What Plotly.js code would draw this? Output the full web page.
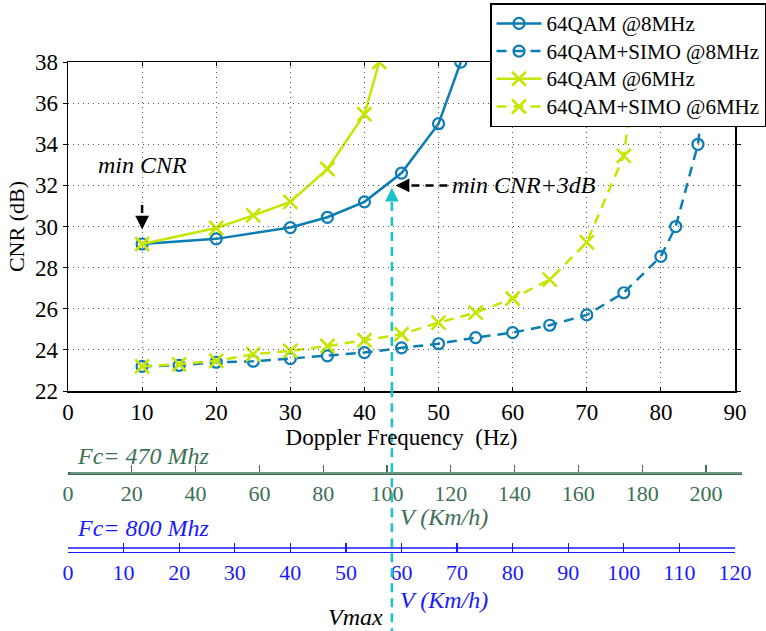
<!DOCTYPE html>
<html>
<head>
<meta charset="utf-8">
<script src="https://cdn.plot.ly/plotly-3.0.1.min.js"></script>
<style>html,body{margin:0;padding:0;background:#fff;}#chart{width:766px;height:631px;}</style>
</head>
<body>
<div id="chart"></div>
<script>
// ---- data ----
const freq8 = [10, 20, 30, 35, 40, 45, 50, 53];
const cnr8 = [29.15, 29.4, 29.95, 30.45, 31.2, 32.6, 35.0, 38.0];

const freqSimo8 = [10, 15, 20, 25, 30, 35, 40, 45, 50, 55, 60, 65, 70, 75, 80, 82, 85, 87];
const cnrSimo8 = [23.2, 23.25, 23.4, 23.45, 23.58, 23.71, 23.87, 24.1, 24.3, 24.6, 24.84, 25.2, 25.7, 26.78, 28.55, 30.0, 34.0, 40.0];

const freq6 = [10, 20, 25, 30, 35, 40, 42];
const cnr6 = [29.15, 29.93, 30.54, 31.2, 32.8, 35.46, 38.0];

const freqSimo6 = [10, 15, 20, 25, 30, 35, 40, 45, 50, 55, 60, 65, 70, 75, 77];
const cnrSimo6 = [23.2, 23.3, 23.47, 23.79, 23.95, 24.19, 24.47, 24.76, 25.33, 25.81, 26.5, 27.42, 29.23, 33.44, 39.0];

const seriesNames = ["64QAM @8MHz", "64QAM+SIMO @8MHz", "64QAM @6MHz", "64QAM+SIMO @6MHz"];

// speed axes (km/h)
const speedTicks470 = [0, 20, 40, 60, 80, 100, 120, 140, 160, 180, 200];
const speedTicks800 = [0, 10, 20, 30, 40, 50, 60, 70, 80, 90, 100, 110, 120];

// annotation values
const minCNRFreq = 10, minCNRArrowTop = 31.05, minCNRArrowTip = 29.85;
const plus3Freq = 44.2, plus3Start = 51.2, plus3CNR = 32.0;
const vmaxFreq = 43.7, vmaxTip = 31.88;

// ---- style ----
const BLUE = "#0b7db4";
const YEL = "#c6e600";
const CYAN = "#19c2c6";
const GREEN = "#3c6f55";
const VBLUE = "#1a1aff";
const FONT = "Liberation Serif, Times New Roman, serif";
const DASH = "10px,7px";

const legName = s => '<span style="font-size:21px">' + s + '</span>';

const traces = [
  {x: freq8, y: cnr8, name: legName(seriesNames[0]), mode: "lines+markers",
   line: {color: BLUE, width: 2.5},
   marker: {symbol: "circle-open", size: 11, color: BLUE, line: {width: 2.2}}},
  {x: freqSimo8, y: cnrSimo8, name: legName(seriesNames[1]), mode: "lines+markers",
   line: {color: BLUE, width: 2.5, dash: DASH},
   marker: {symbol: "circle-open", size: 11, color: BLUE, line: {width: 2.2}}},
  {x: freq6, y: cnr6, name: legName(seriesNames[2]), mode: "lines+markers",
   line: {color: YEL, width: 2.5},
   marker: {symbol: "x-thin-open", size: 14, color: YEL, line: {width: 2.6, color: YEL}}},
  {x: freqSimo6, y: cnrSimo6, name: legName(seriesNames[3]), mode: "lines+markers",
   line: {color: YEL, width: 2.5, dash: DASH},
   marker: {symbol: "x-thin-open", size: 14, color: YEL, line: {width: 2.6, color: YEL}}},
  {x: [], y: [], xaxis: "x2", yaxis: "y", showlegend: false, hoverinfo: "skip", mode: "markers"},
  {x: [], y: [], xaxis: "x3", yaxis: "y", showlegend: false, hoverinfo: "skip", mode: "markers"}
];

const MAIN_R = 0.9556;
const Y_BOT = 0.3803, Y_TOP = 0.9017;

const layout = {
  width: 766, height: 631,
  margin: {l: 68, r: 0, t: 0, b: 0},
  paper_bgcolor: "#fff", plot_bgcolor: "rgba(0,0,0,0)",
  font: {family: FONT, size: 21, color: "#000"},
  showlegend: true,
  legend: {x: 0.6046, y: 0.9952, xanchor: "left", yanchor: "top",
           bgcolor: "#fff", bordercolor: "#000", borderwidth: 1.5,
           font: {family: FONT, size: 19, color: "#000"}, itemwidth: 45,
           tracegroupgap: 0},
  xaxis: {domain: [0, MAIN_R], range: [0, 90], dtick: 10, tick0: 0,
          showgrid: true, gridcolor: "#555", griddash: "1px,4px", gridwidth: 1,
          zeroline: false, showline: true, linecolor: "#000", linewidth: 1.5, mirror: "ticks",
          ticks: "inside", ticklen: 4, tickcolor: "#000",
          tickfont: {family: FONT, size: 23, color: "#000"},
          title: {text: "Doppler Frequency \u00a0(Hz)", font: {family: FONT, size: 23}, standoff: 0}},
  yaxis: {domain: [Y_BOT, Y_TOP], range: [22, 38], dtick: 2, tick0: 22,
          showgrid: true, gridcolor: "#555", griddash: "1px,4px", gridwidth: 1,
          zeroline: false, showline: true, linecolor: "#000", linewidth: 1.5, mirror: "ticks",
          ticks: "outside", ticklen: 4, tickcolor: "#000",
          tickfont: {family: FONT, size: 23, color: "#000"},
          title: {text: "CNR (dB)", font: {family: FONT, size: 22}, standoff: 4}},
  xaxis2: {domain: [0, 0.9656], range: [0, 211.3], anchor: "free", position: 0.2504,
           tickvals: speedTicks470, ticktext: speedTicks470.map(String),
           showgrid: false, zeroline: false, showline: true, linecolor: GREEN, linewidth: 3,
           ticks: "inside", ticklen: 7, tickcolor: GREEN, tickwidth: 1.2,
           tickfont: {family: FONT, size: 22, color: GREEN}},
  xaxis3: {domain: [0, MAIN_R], range: [0, 120], anchor: "free", position: 0.1252,
           tickvals: speedTicks800, ticktext: speedTicks800.map(String),
           showgrid: false, zeroline: false, showline: true, linecolor: VBLUE, linewidth: 1.5,
           ticks: "inside", ticklen: 9, tickcolor: VBLUE, tickwidth: 1.2,
           tickfont: {family: FONT, size: 22, color: VBLUE}},
  shapes: [
    {type: "line", xref: "x", yref: "y", x0: minCNRFreq, x1: minCNRFreq, y0: minCNRArrowTop, y1: minCNRArrowTip + 0.3,
     line: {color: "#000", width: 2.5, dash: "8px,6px"}},
    {type: "line", xref: "x", yref: "y", x0: plus3Start, x1: plus3Freq + 0.8, y0: plus3CNR, y1: plus3CNR,
     line: {color: "#000", width: 2.5, dash: "8px,6px"}},
    {type: "line", xref: "x", yref: "y", x0: vmaxFreq, x1: vmaxFreq, y0: 22, y1: vmaxTip - 0.5,
     line: {color: CYAN, width: 2.5, dash: "9px,6px"}},
    {type: "line", xref: "x", yref: "paper", x0: vmaxFreq, x1: vmaxFreq, y0: -0.01, y1: Y_BOT,
     line: {color: CYAN, width: 2.5, dash: "9px,6px"}},
    {type: "line", xref: "paper", yref: "paper", x0: 0, x1: MAIN_R, y0: 0.1315, y1: 0.1315,
     line: {color: VBLUE, width: 1.5}},
    {type: "line", xref: "paper", yref: "paper", x0: 0.003, x1: 0.9656, y0: 0.2504, y1: 0.2504,
     line: {color: "#b8d2c4", width: 0.8}}
  ],
  annotations: [
    {xref: "x", yref: "y", x: minCNRFreq, y: 33.0, text: "<i>min CNR</i>", showarrow: false,
     font: {family: FONT, size: 24, color: "#000"}},
    {xref: "x", yref: "y", x: minCNRFreq, y: minCNRArrowTip, text: "", showarrow: true,
     ax: 0, ay: -9, arrowhead: 2, arrowsize: 1.1, arrowwidth: 2.5, arrowcolor: "#000"},
    {xref: "x", yref: "y", x: plus3Start + 0.3, y: plus3CNR, xanchor: "left", text: "<i>min CNR+3dB</i>", showarrow: false,
     font: {family: FONT, size: 24, color: "#000"}},
    {xref: "x", yref: "y", x: plus3Freq, y: plus3CNR, text: "", showarrow: true,
     ax: 9, ay: 0, arrowhead: 2, arrowsize: 1.1, arrowwidth: 2.5, arrowcolor: "#000"},
    {xref: "x", yref: "y", x: vmaxFreq, y: vmaxTip, text: "", showarrow: true,
     ax: 0, ay: 9, arrowhead: 2, arrowsize: 1.1, arrowwidth: 2.5, arrowcolor: CYAN},
    {xref: "paper", yref: "paper", x: 0.01, y: 0.2773, xanchor: "left", yanchor: "middle",
     text: "<i>Fc= 470 Mhz</i>", showarrow: false, font: {family: FONT, size: 24, color: GREEN}},
    {xref: "paper", yref: "paper", x: 0.4728, y: 0.1807, xanchor: "left", yanchor: "middle",
     text: "<i>V (Km/h)</i>", showarrow: false, font: {family: FONT, size: 24, color: GREEN}},
    {xref: "paper", yref: "paper", x: 0.01, y: 0.1632, xanchor: "left", yanchor: "middle",
     text: "<i>Fc= 800 Mhz</i>", showarrow: false, font: {family: FONT, size: 24, color: VBLUE}},
    {xref: "paper", yref: "paper", x: 0.4728, y: 0.0491, xanchor: "left", yanchor: "middle",
     text: "<i>V (Km/h)</i>", showarrow: false, font: {family: FONT, size: 24, color: VBLUE}},
    {xref: "paper", yref: "paper", x: 0.4542, y: 0.0222, xanchor: "right", yanchor: "middle",
     text: "<i>Vmax</i>", showarrow: false, font: {family: FONT, size: 24, color: "#000"}}
  ]
};

Plotly.newPlot("chart", traces, layout, {displayModeBar: false, staticPlot: true});
</script>
</body>
</html>
